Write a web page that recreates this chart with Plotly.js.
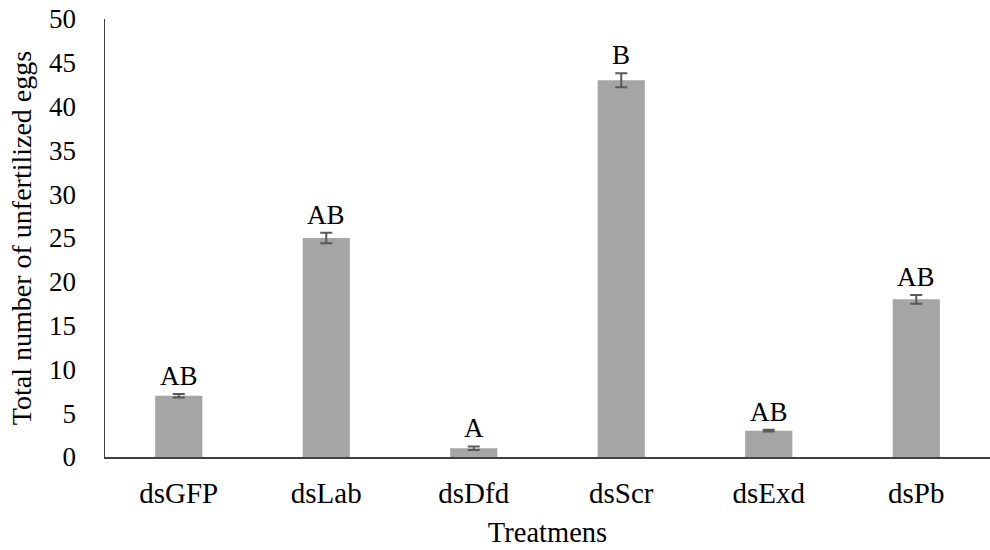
<!DOCTYPE html>
<html>
<head>
<meta charset="utf-8">
<script src="https://cdn.plot.ly/plotly-3.0.1.min.js"></script>
<style>html,body{margin:0;padding:0;background:#fff;}#chart{width:990px;height:550px;}</style>
</head>
<body>
<div id="chart"></div>
<script>
const categories = ["dsGFP", "dsLab", "dsDfd", "dsScr", "dsExd", "dsPb"];
const values = [7, 25, 1, 43, 3, 18];
const errors = [0.2, 0.6, 0.2, 0.8, 0.1, 0.5];
const letters = ["AB", "AB", "A", "B", "AB", "AB"];
const yTicks = [0, 5, 10, 15, 20, 25, 30, 35, 40, 45, 50];

const font = "Liberation Serif";

const trace = {
  type: "bar",
  x: categories,
  y: values,
  marker: {color: "#A5A5A5"},
  error_y: {type: "data", array: errors, visible: true, color: "#595959", thickness: 2, width: 6},
  hoverinfo: "none"
};

const annotations = categories.map((c, i) => ({
  x: c, y: values[i] + errors[i], xref: "x", yref: "y",
  text: letters[i], showarrow: false, yanchor: "bottom", yshift: 1,
  font: {family: font, size: 27, color: "#000"}
}));

const layout = {
  width: 990, height: 550,
  margin: {l: 105, r: 0, t: 19, b: 93},
  paper_bgcolor: "#fff", plot_bgcolor: "#fff",
  showlegend: false,
  bargap: 0.68,
  font: {family: font, color: "#000", size: 26},
  xaxis: {
    showline: true, linecolor: "#404040", linewidth: 1.5,
    ticks: "", showgrid: false, zeroline: false,
    ticklabelstandoff: 10,
    tickfont: {family: font, size: 29, color: "#000"},
    title: {text: "Treatmens", font: {family: font, size: 28.5, color: "#000"}, standoff: 14}
  },
  yaxis: {
    range: [0, 50], tickvals: yTicks, ticktext: yTicks.map(String),
    showline: true, linecolor: "#404040", linewidth: 1.5,
    ticks: "", showgrid: false, zeroline: false,
    ticklabelstandoff: 22,
    tickfont: {family: font, size: 27, color: "#000"},
    title: {text: "Total number of unfertilized eggs", font: {family: font, size: 28, color: "#000"}, standoff: 9}
  },
  annotations: annotations
};

Plotly.newPlot("chart", [trace], layout, {displayModeBar: false, staticPlot: true});
</script>
</body>
</html>
